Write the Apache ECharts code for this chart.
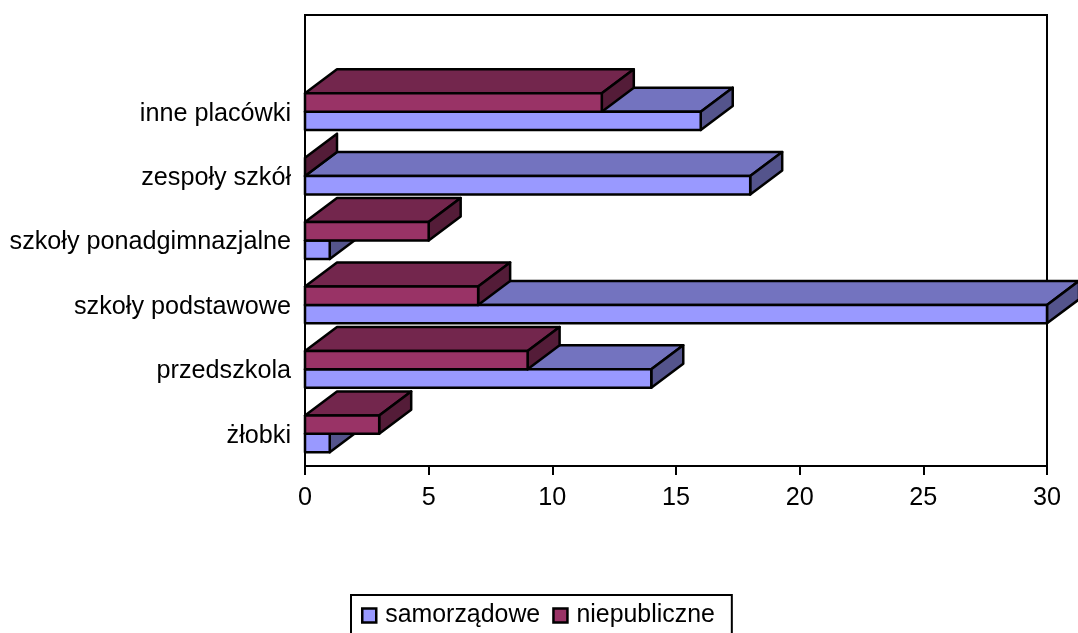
<!DOCTYPE html>
<html>
<head>
<meta charset="utf-8">
<style>html,body{margin:0;padding:0;background:#fff;overflow:hidden}#c{width:1078px;height:633px}</style>
<script src="https://cdn.jsdelivr.net/npm/echarts@6/dist/echarts.min.js"></script>
</head>
<body>
<div id="c"></div>
<script>
const categories = ['żłobki', 'przedszkola', 'szkoły podstawowe', 'szkoły ponadgimnazjalne', 'zespoły szkół', 'inne placówki', ''];
const samorzadowe = [1, 14, 30, 1, 18, 16];
const niepubliczne = [3, 9, 7, 5, 0, 12];
const xTicks = { min: 0, max: 30, interval: 5 };

const FONT = '"Liberation Sans", Arial, sans-serif';
const DX = 32, DY = 24, BAR_RATIO = 1 / 3.5;

function bar3d(slot, front, top, side) {
  return function (params, api) {
    const base = api.coord([0, api.value(1)]);
    const end = api.coord([api.value(0), api.value(1)]);
    const h = api.size([0, 1])[1] * BAR_RATIO;
    const x0 = base[0], x1 = end[0];
    const yT = base[1] + slot * h, yB = yT + h;
    const style = c => ({ fill: c, stroke: '#000', lineWidth: 2.5, lineJoin: 'round' });
    const children = [];
    if (x1 > x0) {
      children.push({ type: 'polygon', shape: { points: [[x0, yT], [x0 + DX, yT - DY], [x1 + DX, yT - DY], [x1, yT]] }, style: style(top) });
    }
    children.push({ type: 'polygon', shape: { points: [[x1, yT], [x1 + DX, yT - DY], [x1 + DX, yB - DY], [x1, yB]] }, style: style(side) });
    if (x1 > x0) {
      children.push({ type: 'rect', shape: { x: x0, y: yT, width: x1 - x0, height: h }, style: style(front) });
    }
    return { type: 'group', children };
  };
}

const chart = echarts.init(document.getElementById('c'), null, { renderer: 'canvas' });
chart.setOption({
  animation: false,
  backgroundColor: '#fff',
  textStyle: { fontFamily: FONT },
  grid: { left: 305, top: 15, width: 742, height: 451, show: true, borderColor: '#000', borderWidth: 2, backgroundColor: 'transparent', containLabel: false },
  xAxis: {
    type: 'value', min: xTicks.min, max: xTicks.max, interval: xTicks.interval,
    splitLine: { show: false },
    axisLine: { show: true, onZero: false, lineStyle: { color: '#000', width: 2 } },
    axisTick: { show: true, length: 9, lineStyle: { color: '#000', width: 2 } },
    axisLabel: { color: '#000', fontFamily: FONT, fontSize: 25.2, margin: 20, showMinLabel: true, showMaxLabel: true, hideOverlap: false }
  },
  yAxis: {
    type: 'category', data: categories,
    axisLine: { show: true, lineStyle: { color: '#000', width: 2 } },
    axisTick: { show: false },
    splitLine: { show: false },
    axisLabel: {
      color: '#000', fontFamily: FONT, fontSize: 25.2, margin: 14, interval: 0,
      formatter: v => v ? '{a|' + v + '}' : '',
      rich: { a: { color: '#000', fontFamily: FONT, fontSize: 25.2, padding: [4, 0, 0, 0] } }
    }
  },
  legend: {
    left: 351, top: 595, orient: 'horizontal',
    padding: [8, 17, 30, 10],
    itemGap: 12, itemWidth: 14, itemHeight: 14,
    backgroundColor: '#fff', borderColor: '#000', borderWidth: 2,
    textStyle: { color: '#000', fontFamily: FONT, fontSize: 24.9, padding: [0, 0, 0, 4] },
    data: [
      { name: 'samorządowe', icon: 'rect', itemStyle: { color: '#9999FF', borderColor: '#000', borderWidth: 2.5 } },
      { name: 'niepubliczne', icon: 'rect', itemStyle: { color: '#993366', borderColor: '#000', borderWidth: 2.5 } }
    ]
  },
  series: [
    {
      name: 'samorządowe', type: 'custom', z: 3, clip: false,
      itemStyle: { color: '#9999FF' },
      renderItem: bar3d(0, '#9999FF', '#7373BF', '#54548C'),
      encode: { x: 0, y: 1 },
      data: samorzadowe.map((v, i) => [v, i])
    },
    {
      name: 'niepubliczne', type: 'custom', z: 4, clip: false,
      itemStyle: { color: '#993366' },
      renderItem: bar3d(-1, '#993366', '#73264D', '#541C38'),
      encode: { x: 0, y: 1 },
      data: niepubliczne.map((v, i) => [v, i])
    }
  ]
});
</script>
</body>
</html>
